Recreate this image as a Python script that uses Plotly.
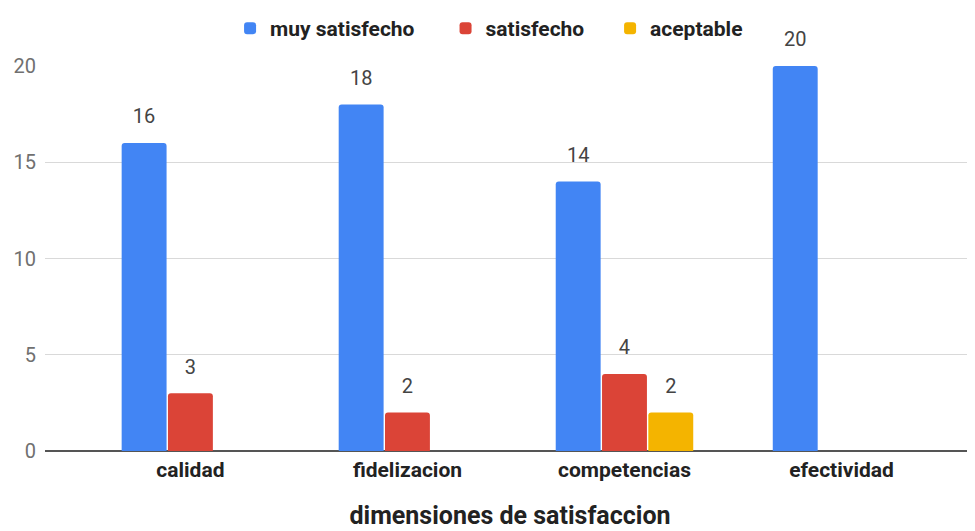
import plotly.graph_objects as go

categories = ["calidad", "fidelizacion", "competencias", "efectividad"]
muy_satisfecho = [16, 18, 14, 20]
satisfecho = [3, 2, 4, None]
aceptable = [None, None, 2, None]
series_names = ["muy satisfecho", "satisfecho", "aceptable"]
colors = ["#4285F4", "#DB4437", "#F4B400"]
y_ticks = [0, 5, 10, 15, 20]

series = [muy_satisfecho, satisfecho, aceptable]
legend_pad = ["\u00a0" * 5, "\u00a0" * 4, ""]

fig = go.Figure()
for i, (name, vals, col) in enumerate(zip(series_names, series, colors)):
    fig.add_trace(go.Bar(
        x=categories, y=vals, name=name + legend_pad[i],
        offsetgroup=str(i),
        marker=dict(color=col, cornerradius=3, line=dict(width=0)),
        hovertemplate=name + ": %{y}<extra></extra>",
    ))
# value labels, aligned with the grouped bars
for i, (name, vals) in enumerate(zip(series_names, series)):
    fig.add_trace(go.Scatter(
        x=categories, y=vals, mode="markers+text",
        offsetgroup=str(i),
        text=[("" if v is None else str(v)) for v in vals],
        textposition="top center",
        textfont=dict(family="Roboto", size=20, color="#444444"),
        marker=dict(size=22, color="rgba(0,0,0,0)"),
        showlegend=False, hoverinfo="skip", cliponaxis=False,
    ))

fig.update_layout(
    width=967, height=531,
    margin=dict(l=37, r=0, t=57, b=88),
    plot_bgcolor="white", paper_bgcolor="white",
    barmode="group", bargap=0.36, bargroupgap=0.03,
    scattermode="group", scattergap=0.36,
    font=dict(family="Roboto"),
    showlegend=True,
    legend=dict(
        orientation="h", x=0.199, xanchor="left", y=1.098, yanchor="middle",
        font=dict(family="Roboto", size=21, color="#222222", weight="bold"),
        itemsizing="constant",
    ),
    xaxis=dict(
        range=[-0.67, 3.615], automargin=False,
        showgrid=False, showline=False, ticks="",
        ticklabelstandoff=4,
        tickfont=dict(family="Roboto", size=21, color="#222222", weight="bold"),
        title=dict(text="dimensiones de satisfaccion", standoff=25,
                   font=dict(family="Roboto", size=25, color="#222222", weight="bold")),
    ),
    yaxis=dict(
        range=[0, 20], tickvals=y_ticks,
        showgrid=True, gridcolor="#d9d9d9", gridwidth=1,
        zeroline=True, zerolinecolor="#555555", zerolinewidth=2,
        showline=False, ticks="", ticklabelstandoff=8,
        tickfont=dict(family="Roboto", size=20, color="#707070"),
    ),
)
fig.write_html("out.html")
